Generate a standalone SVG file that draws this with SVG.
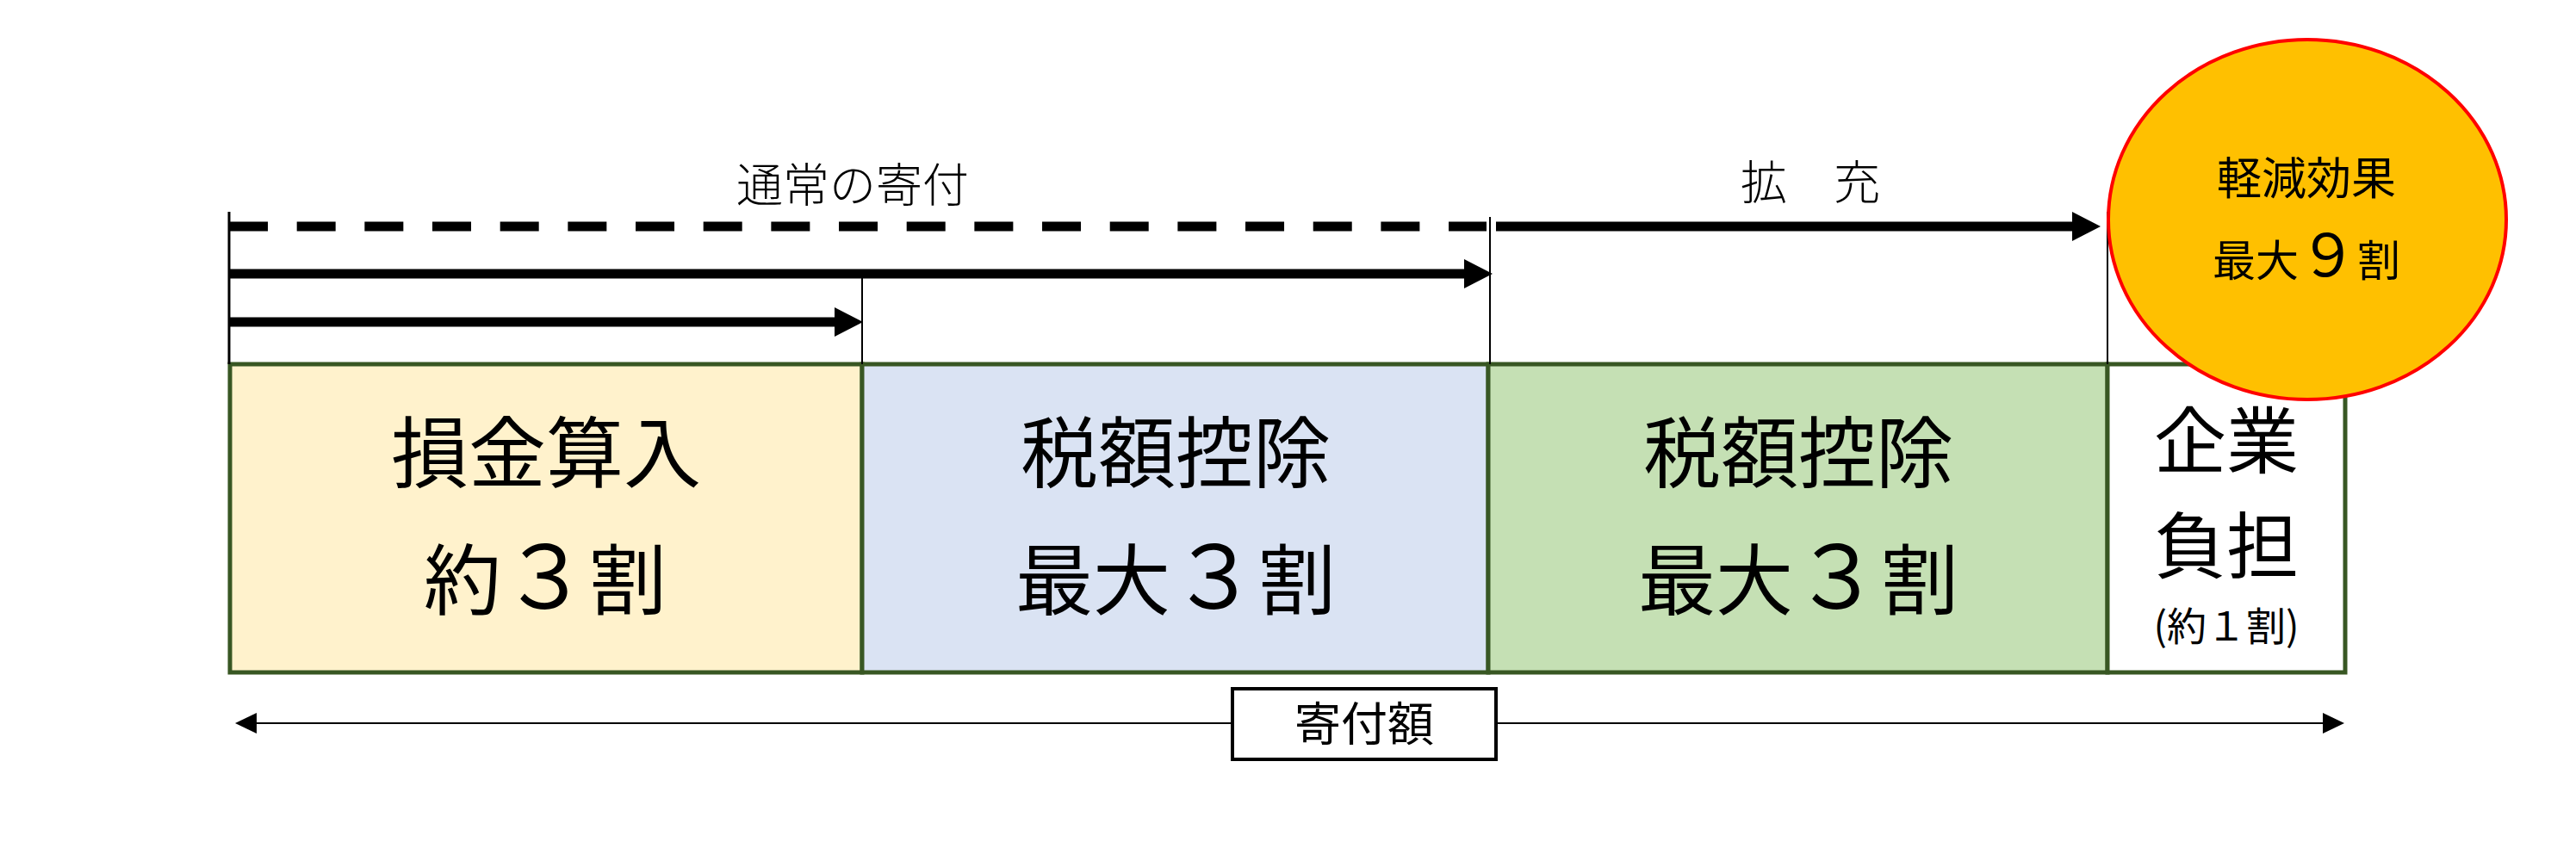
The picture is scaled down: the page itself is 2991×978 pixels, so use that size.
<svg xmlns="http://www.w3.org/2000/svg" width="2991" height="978" viewBox="0 0 2991 978">
<defs>
<style>
.t{font-family:"Noto Sans CJK JP","Noto Sans CJK SC",sans-serif;fill:#000}
.big{font-size:90px}
.lbl{font-size:54px;font-weight:300}
.box{stroke:#385723;stroke-width:5}
.thick{stroke:#000;stroke-width:11;fill:none}
.vl{stroke:#000;stroke-width:2;fill:none}
</style>
<marker id="head" markerUnits="userSpaceOnUse" markerWidth="34" markerHeight="34" refX="5" refY="17" orient="auto" overflow="visible">
<path d="M0,0 L33,17 L0,34 Z" fill="#000"/>
</marker>
<marker id="small" markerUnits="userSpaceOnUse" markerWidth="26" markerHeight="24" refX="3" refY="12" orient="auto-start-reverse" overflow="visible">
<path d="M0,0 L25,12 L0,24 Z" fill="#000"/>
</marker>
</defs>
<rect width="2991" height="978" fill="#fff"/>

<g id="box1">
<rect class="box" x="267" y="423" width="734" height="358" fill="#FFF2CC"/>
<text class="t big" x="634" y="559" text-anchor="middle">損金算入</text>
<text class="t big" x="633" y="707" text-anchor="middle">約<tspan font-size="102">３</tspan>割</text>
</g>
<g id="box2">
<rect class="box" x="1001" y="423" width="727" height="358" fill="#DAE3F3"/>
<text class="t big" x="1365" y="559" text-anchor="middle">税額控除</text>
<text class="t big" x="1365" y="707" text-anchor="middle">最大<tspan font-size="102">３</tspan>割</text>
</g>
<g id="box3">
<rect class="box" x="1728" y="423" width="719" height="358" fill="#C5E0B4"/>
<text class="t big" x="2088" y="559" text-anchor="middle">税額控除</text>
<text class="t big" x="2088" y="707" text-anchor="middle">最大<tspan font-size="102">３</tspan>割</text>
</g>
<g id="box4">
<rect class="box" x="2447" y="423" width="276" height="358" fill="#FFFFFF"/>
<text class="t" x="2585" y="543" text-anchor="middle" font-size="84">企業</text>
<text class="t" x="2585" y="665" text-anchor="middle" font-size="84">負担</text>
<text class="t" x="2585" y="744" text-anchor="middle" font-size="46">(約１割)</text>
</g>

<g id="connectors">
<line x1="266" y1="246" x2="266" y2="423" stroke="#000" stroke-width="3"/>
<line class="vl" x1="1001" y1="323" x2="1001" y2="423" stroke-width="1.5"/>
<line class="vl" x1="1730" y1="252" x2="1730" y2="423"/>
<line class="vl" x1="2447" y1="246" x2="2447" y2="423"/>
<line class="thick" x1="266" y1="263" x2="1726" y2="263" stroke-dasharray="45 33.67"/>
<line class="thick" x1="1737" y1="263" x2="2411" y2="263" marker-end="url(#head)"/>
<line class="thick" x1="266" y1="318" x2="1705" y2="318" marker-end="url(#head)"/>
<line class="thick" x1="266" y1="374" x2="974" y2="374" marker-end="url(#head)"/>
<line x1="295" y1="840" x2="2700" y2="840" stroke="#000" stroke-width="2" marker-start="url(#small)" marker-end="url(#small)"/>
</g>

<g id="label-normal">
<text class="t lbl" x="990" y="235" text-anchor="middle">通常の寄付</text>
</g>
<g id="label-expand">
<text class="t lbl" x="2102" y="232" text-anchor="middle">拡　充</text>
</g>

<g id="total">
<rect x="1431" y="800" width="306" height="82" fill="#fff" stroke="#000" stroke-width="4"/>
<text class="t" x="1584" y="861" text-anchor="middle" font-size="54">寄付額</text>
</g>

<g id="effect">
<ellipse cx="2679" cy="255" rx="231" ry="209" fill="#FFC000" stroke="#FF0000" stroke-width="4"/>
<text class="t" x="2678" y="226" text-anchor="middle" font-size="52">軽減効果</text>
<text class="t" x="2678" y="321" text-anchor="middle" font-size="50">最大<tspan font-size="68">９</tspan>割</text>
</g>
</svg>
